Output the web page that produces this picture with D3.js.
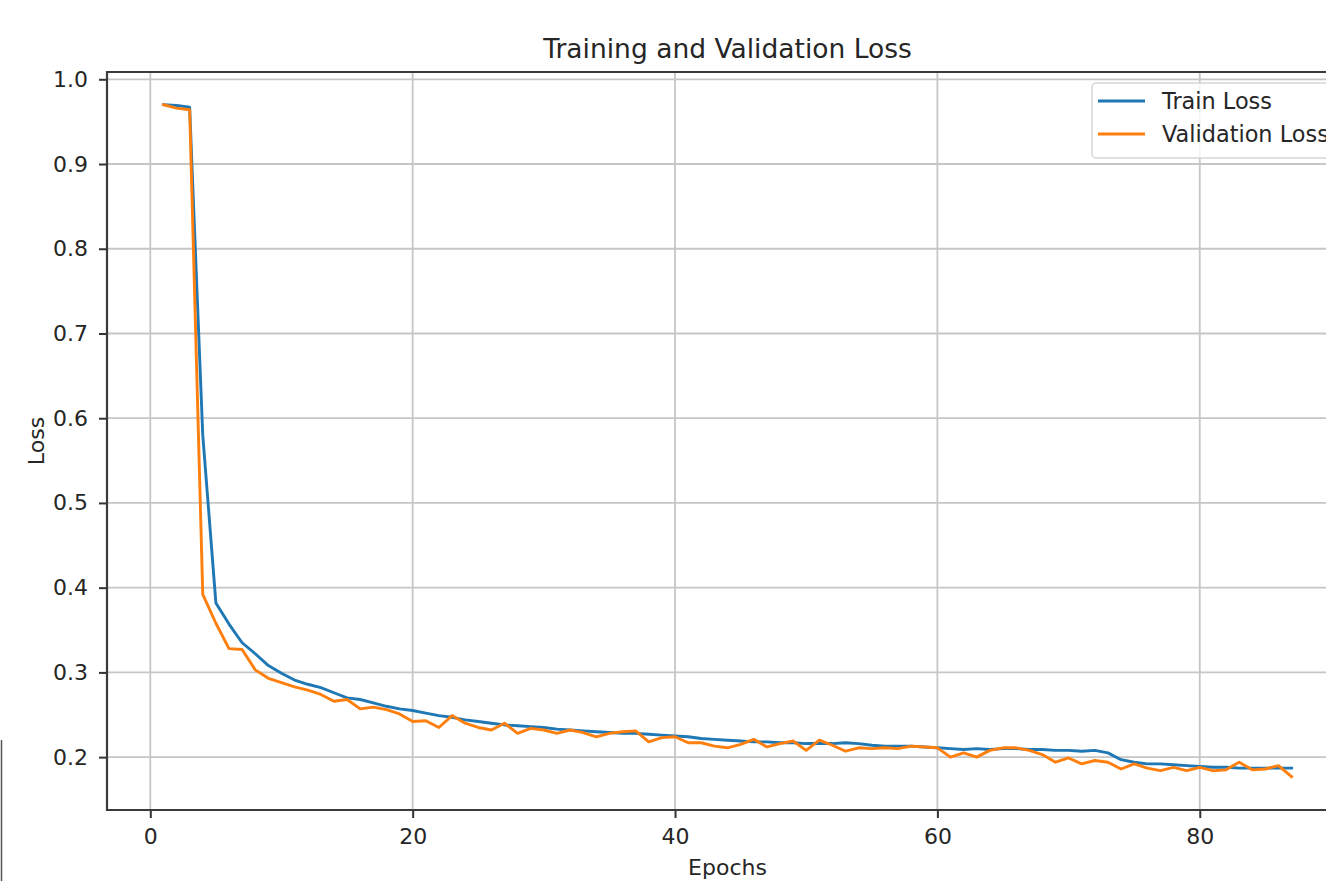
<!DOCTYPE html>
<html>
<head>
<meta charset="utf-8">
<script src="https://cdn.jsdelivr.net/npm/d3@7"></script>
<style>
  html, body { margin: 0; padding: 0; background: #fff; }
  svg { display: block; font-family: "DejaVu Sans", sans-serif; }
</style>
</head>
<body>
<svg id="chart" width="1326" height="881"></svg>
<script>
const epochs = d3.range(1, 88);
const trainLoss = [
  0.970, 0.969, 0.967, 0.580, 0.382, 0.357, 0.335, 0.322, 0.308, 0.299,
  0.291, 0.286, 0.282, 0.276, 0.270, 0.268, 0.264, 0.260, 0.257, 0.255,
  0.252, 0.249, 0.247, 0.244, 0.242, 0.240, 0.238, 0.237, 0.236, 0.235,
  0.233, 0.232, 0.231, 0.230, 0.229, 0.228, 0.228, 0.227, 0.226, 0.225,
  0.224, 0.222, 0.221, 0.220, 0.219, 0.218, 0.218, 0.217, 0.217, 0.216,
  0.216, 0.216, 0.217, 0.216, 0.214, 0.213, 0.213, 0.213, 0.212, 0.211,
  0.210, 0.209, 0.210, 0.209, 0.210, 0.210, 0.209, 0.209, 0.208, 0.208,
  0.207, 0.208, 0.205, 0.197, 0.194, 0.192, 0.192, 0.191, 0.190, 0.189,
  0.188, 0.188, 0.187, 0.187, 0.187, 0.187, 0.187
];
const valLoss = [
  0.970, 0.966, 0.964, 0.392, 0.358, 0.328, 0.327, 0.303, 0.293, 0.288,
  0.283, 0.279, 0.274, 0.266, 0.268, 0.257, 0.259, 0.256, 0.251, 0.242,
  0.243, 0.235, 0.249, 0.240, 0.235, 0.232, 0.240, 0.228, 0.234, 0.232,
  0.228, 0.232, 0.229, 0.224, 0.228, 0.230, 0.231, 0.218, 0.223, 0.224,
  0.217, 0.217, 0.213, 0.211, 0.215, 0.221, 0.212, 0.216, 0.219, 0.208,
  0.220, 0.214, 0.207, 0.211, 0.210, 0.211, 0.210, 0.213, 0.212, 0.211,
  0.200, 0.205, 0.200, 0.208, 0.211, 0.211, 0.208, 0.203, 0.194, 0.199,
  0.192, 0.196, 0.194, 0.186, 0.192, 0.187, 0.184, 0.188, 0.184, 0.188,
  0.184, 0.185, 0.194, 0.185, 0.186, 0.190, 0.177
];
const xTicks = [0, 20, 40, 60, 80];
const yTicks = [0.2, 0.3, 0.4, 0.5, 0.6, 0.7, 0.8, 0.9, 1.0];
const seriesNames = ["Train Loss", "Validation Loss"];
const seriesColors = ["#1f77b4", "#ff7f0e"];

const svg = d3.select("#chart");
const L = 107, R = 1348, T = 72, B = 810;

const x = d3.scaleLinear().domain([-3.3, 91.3]).range([L, R]);
const y = d3.scaleLinear().domain([0.1376, 1.0086]).range([B, T]);

svg.append("defs").append("clipPath").attr("id", "plotclip")
  .append("rect").attr("x", L).attr("y", T).attr("width", R - L).attr("height", B - T);

// grid
const grid = svg.append("g");
grid.selectAll("line.gx").data(xTicks).join("line")
  .attr("x1", d => x(d)).attr("x2", d => x(d))
  .attr("y1", T).attr("y2", B)
  .attr("stroke", "#c6c6c6").attr("stroke-width", 1.8);
grid.selectAll("line.gy").data(yTicks).join("line")
  .attr("x1", L).attr("x2", R)
  .attr("y1", d => y(d)).attr("y2", d => y(d))
  .attr("stroke", "#c6c6c6").attr("stroke-width", 1.8);

// lines
const line = d3.line().x((d, i) => x(epochs[i])).y(d => y(d));
const plot = svg.append("g").attr("clip-path", "url(#plotclip)");
[trainLoss, valLoss].forEach((s, k) => {
  plot.append("path").datum(s)
    .attr("fill", "none")
    .attr("stroke", seriesColors[k])
    .attr("stroke-width", 2.9)
    .attr("stroke-linejoin", "round")
    .attr("stroke-linecap", "square")
    .attr("d", line);
});

// axes
const xAxis = d3.axisBottom(x).tickValues(xTicks).tickFormat(d3.format("d")).tickSize(8).tickPadding(10);
const yAxis = d3.axisLeft(y).tickValues(yTicks).tickFormat(d3.format(".1f")).tickSize(8).tickPadding(11);

const gx = svg.append("g").attr("transform", `translate(0,${B})`).call(xAxis);
const gy = svg.append("g").attr("transform", `translate(${L},0)`).call(yAxis);
[gx, gy].forEach(g => {
  g.select(".domain").remove();
  g.selectAll(".tick line").attr("stroke", "#333").attr("stroke-width", 2);
  g.selectAll(".tick text").attr("fill", "#262626").attr("font-size", "22px")
    .attr("font-family", "DejaVu Sans, sans-serif");
});

// spines
svg.append("path")
  .attr("d", `M${R},${T} L${L},${T} L${L},${B} L${R},${B}`)
  .attr("fill", "none").attr("stroke", "#3a3a3a").attr("stroke-width", 2.2);

// title & labels
svg.append("text").attr("x", (L + R) / 2).attr("y", 58)
  .attr("text-anchor", "middle").attr("font-size", "26.5px").attr("fill", "#262626")
  .text("Training and Validation Loss");
svg.append("text").attr("x", (L + R) / 2).attr("y", 875)
  .attr("text-anchor", "middle").attr("font-size", "22px").attr("fill", "#262626")
  .text("Epochs");
svg.append("text")
  .attr("transform", `translate(44,${(T + B) / 2}) rotate(-90)`)
  .attr("text-anchor", "middle").attr("font-size", "22px").attr("fill", "#262626")
  .text("Loss");

// legend
const lg = svg.append("g");
lg.append("rect").attr("x", 1092).attr("y", 83).attr("width", 260).attr("height", 75)
  .attr("rx", 4).attr("ry", 4)
  .attr("fill", "#fff").attr("fill-opacity", 0.8)
  .attr("stroke", "#d6d6d6").attr("stroke-width", 1.5);
seriesNames.forEach((name, k) => {
  const yy = 101 + k * 33;
  lg.append("line").attr("x1", 1098).attr("x2", 1145).attr("y1", yy).attr("y2", yy)
    .attr("stroke", seriesColors[k]).attr("stroke-width", 2.9);
  lg.append("text").attr("x", 1162).attr("y", yy + 8)
    .attr("font-size", "22.4px").attr("fill", "#262626").text(name);
});

// stray edge mark from the original screenshot
svg.append("line").attr("x1", 1.5).attr("x2", 1.5).attr("y1", 740).attr("y2", 881)
  .attr("stroke", "#555").attr("stroke-width", 1.5);
</script>
</body>
</html>
